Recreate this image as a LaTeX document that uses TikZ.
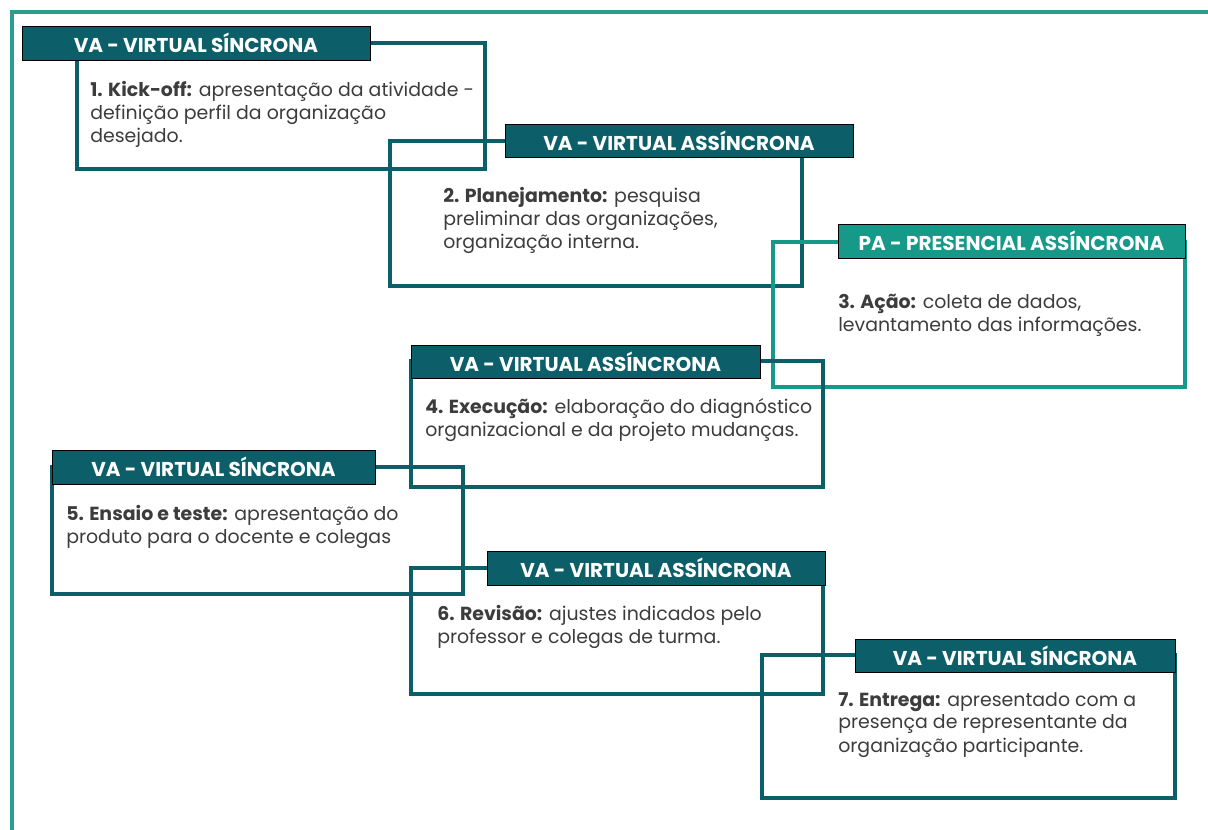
\documentclass[tikz,border=0pt]{standalone}
\usepackage{fontspec}
\setmainfont{Poppins}
\usepackage{tikz}
\definecolor{vadark}{HTML}{0C5F69}
\definecolor{palight}{HTML}{17998A}
\definecolor{frameteal}{HTML}{2A9D8C}
\definecolor{txtgray}{HTML}{3C3C3C}

\begin{document}
\begin{tikzpicture}[x=0.75pt,y=-0.75pt,
  boxva/.style={draw=vadark,line width=2.5pt},
  boxpa/.style={draw=palight,line width=2.5pt},
  barva/.style={fill=vadark},
  barpa/.style={fill=palight},
  head/.style={text=white,font=\fontsize{15}{17}\selectfont\bfseries,inner sep=0pt},
  body/.style={text=txtgray,font=\fontsize{14.2}{17.25}\selectfont,align=left,inner sep=0pt,anchor=base west}]
\useasboundingbox (0,0) rectangle (1208,830);
\draw [frameteal,line width=2.4pt] (12,830) -- (12,12) -- (1208,12);
\draw [boxva] (77,43) rectangle (485,169);
\draw [barva] (22,26) rectangle (370,60) node [midway,head] (h1) {VA - VIRTUAL SÍNCRONA};
\node [body] (t1) at (90,143) {\textbf{1. Kick-off:} apresentação da atividade -\\definição perfil da organização\\desejado.};
\draw [boxva] (390,141) rectangle (802,286);
\draw [barva] (505,124) rectangle (853,157) node [midway,head] (h2) {VA - VIRTUAL ASSÍNCRONA};
\node [body] (t2) at (443,249) {\textbf{2. Planejamento:} pesquisa\\preliminar das organizações,\\organização interna.};
\draw [boxpa] (773,242) rectangle (1185,387);
\draw [barpa] (838,224) rectangle (1185,258) node [midway,head] (h3) {PA - PRESENCIAL ASSÍNCRONA};
\node [body] (t3) at (838,332) {\textbf{3. Ação:} coleta de dados,\\levantamento das informações.};
\draw [boxva] (411,361) rectangle (823,487);
\draw [barva] (411,345) rectangle (760,378) node [midway,head] (h4) {VA - VIRTUAL ASSÍNCRONA};
\node [body] (t4) at (425,437) {\textbf{4. Execução:} elaboração do diagnóstico\\organizacional e da projeto mudanças.};
\draw [boxva] (52,467) rectangle (463,594);
\draw [barva] (52,450) rectangle (375,484) node [midway,head] (h5) {VA - VIRTUAL SÍNCRONA};
\node [body] (t5) at (66,544) {\textbf{5. Ensaio e teste:} apresentação do\\produto para o docente e colegas};
\draw [boxva] (411,568) rectangle (823,694);
\draw [barva] (487,551) rectangle (825,585) node [midway,head] (h6) {VA - VIRTUAL ASSÍNCRONA};
\node [body] (t6) at (437,644) {\textbf{6. Revisão:} ajustes indicados pelo\\professor e colegas de turma.};
\draw [boxva] (762,655) rectangle (1175,798);
\draw [barva] (855,639) rectangle (1175,672) node [midway,head] (h7) {VA - VIRTUAL SÍNCRONA};
\node [body] (t7) at (838,752) {\textbf{7. Entrega:} apresentado com a\\presença de representante da\\organização participante.};
\end{tikzpicture}
\end{document}
